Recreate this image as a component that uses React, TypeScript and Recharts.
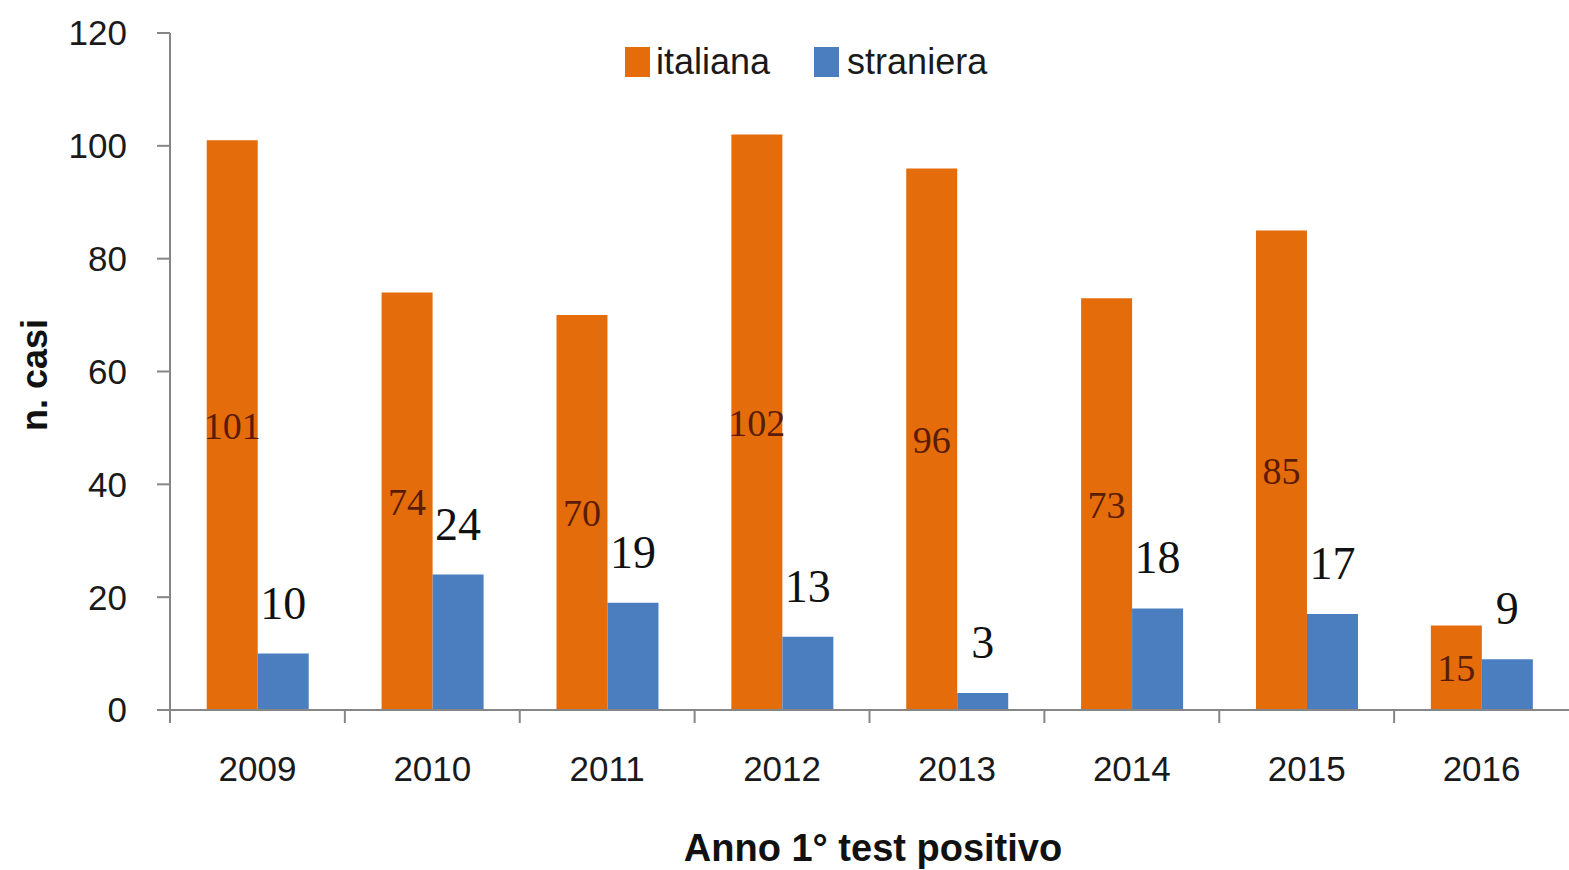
import React from 'react';
import { BarChart, Bar, XAxis, YAxis, LabelList } from 'recharts';

const years = ['2009', '2010', '2011', '2012', '2013', '2014', '2015', '2016'];
const italiana = [101, 74, 70, 102, 96, 73, 85, 15];
const straniera = [10, 24, 19, 13, 3, 18, 17, 9];
const yTicks = [0, 20, 40, 60, 80, 100, 120];

const ORANGE = '#E46C0A';
const BLUE = '#4A7EBF';
const AXIS = '#868686';
const SANS = '"Liberation Sans Narrow", "Liberation Sans", Arial, sans-serif';
const SERIF = '"Liberation Serif", "DejaVu Serif", serif';

const W = 1569;
const H = 870;
const Y_W = 170;
const X_H = 160;
const M = { top: 33, right: 0, bottom: 0, left: 0 };
const BAND = (W - Y_W) / years.length;

const data = years.map((year, i) => ({
  year,
  italiana: italiana[i],
  straniera: straniera[i],
}));

// category axis tick: label centred, tick mark on the left edge of the band
const XTick = (props: any) => {
  const { x, payload } = props;
  const left = x - BAND / 2;
  const axisY = H - X_H;
  return (
    <g>
      <line x1={left} y1={axisY} x2={left} y2={axisY + 13} stroke={AXIS} strokeWidth={2} />
      <text x={x} y={axisY + 62} textAnchor="middle" dominantBaseline="middle"
        fontFamily={SANS} fontSize={35} fill="#1a1a1a">
        {payload.value}
      </text>
    </g>
  );
};

export default function App() {
  return (
    <div style={{ position: 'absolute', left: 0, top: 0, width: W, height: H, background: '#fff' }}>
      <style>{'body{margin:0}'}</style>
      <BarChart width={W} height={H} data={data} margin={M} barGap={0} barCategoryGap="21%">
        <XAxis dataKey="year" height={X_H} axisLine={{ stroke: AXIS, strokeWidth: 2 }} tickLine={false}
          tick={<XTick />} interval={0} />
        <YAxis domain={[0, 120]} ticks={yTicks} axisLine={{ stroke: AXIS, strokeWidth: 2 }}
          tickLine={{ stroke: AXIS, strokeWidth: 2 }} tickSize={13} tickMargin={30}
          tick={{ fontFamily: SANS, fontSize: 35, fill: '#1a1a1a' }} width={Y_W} />
        <Bar dataKey="italiana" fill={ORANGE} isAnimationActive={false}>
          <LabelList dataKey="italiana" position="center" fill="#5a1c08"
            fontFamily={SERIF} fontSize={38} />
        </Bar>
        <Bar dataKey="straniera" fill={BLUE} isAnimationActive={false}>
          <LabelList dataKey="straniera" position="top" offset={35} fill="#111"
            fontFamily={SERIF} fontSize={46} />
        </Bar>
      </BarChart>
      <div style={{ position: 'absolute', left: 625, top: 40, display: 'flex', alignItems: 'center',
        fontFamily: SANS, fontSize: 36, color: '#1a1a1a', lineHeight: '44px' }}>
        <span style={{ width: 25, height: 30, background: ORANGE, display: 'inline-block', marginRight: 6 }} />
        <span style={{ marginRight: 44 }}>italiana</span>
        <span style={{ width: 25, height: 30, background: BLUE, display: 'inline-block', marginRight: 8 }} />
        <span>straniera</span>
      </div>
      <div style={{ position: 'absolute', left: 35, top: 375, transform: 'translate(-50%, -50%) rotate(-90deg)',
        fontFamily: SANS, fontWeight: 'bold', fontSize: 36, color: '#111', whiteSpace: 'nowrap' }}>
        n. casi
      </div>
      <div style={{ position: 'absolute', left: 873, top: 848, transform: 'translate(-50%, -50%)',
        fontFamily: SANS, fontWeight: 'bold', fontSize: 38, color: '#111', whiteSpace: 'nowrap' }}>
        Anno 1° test positivo
      </div>
    </div>
  );
}
